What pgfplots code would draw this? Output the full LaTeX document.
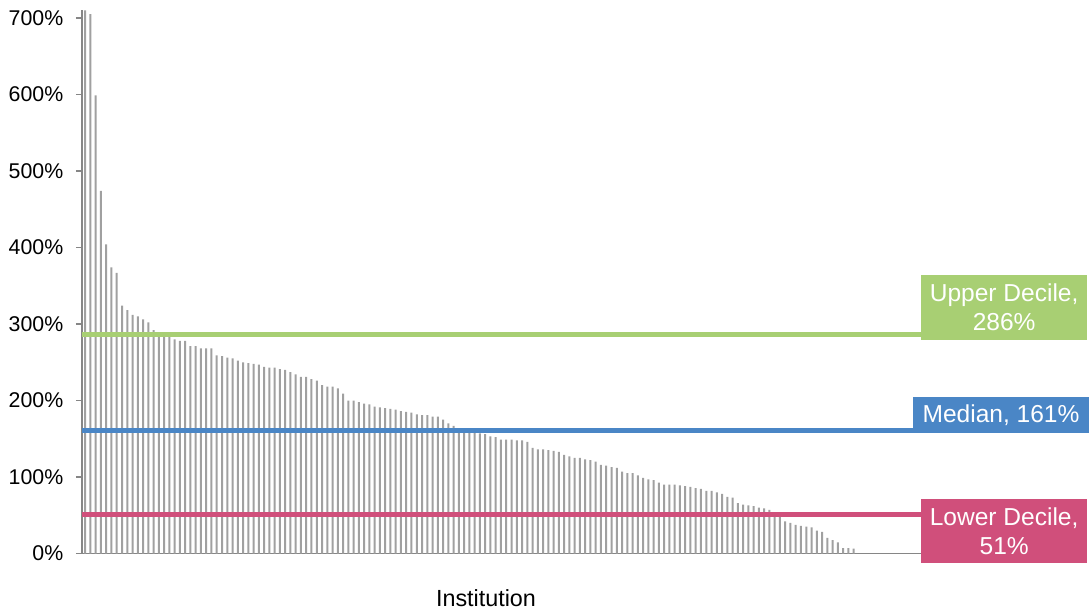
\documentclass[border=0pt]{standalone}
\usepackage{pgfplots}
\pgfplotsset{compat=1.18}
\usepackage{fontspec}
\setmainfont{Liberation Sans}
\definecolor{upc}{HTML}{A8CF73}
\definecolor{medc}{HTML}{4A86C6}
\definecolor{lowc}{HTML}{D04F7B}
\definecolor{barc}{HTML}{A0A0A0}
\definecolor{axc}{HTML}{868686}
\pgfplotstableread{
i v
1 710
2 705
3 599
4 474
5 404
6 374
7 367
8 324
9 318
10 312
11 310
12 306
13 302
14 292
15 286
16 284
17 283
18 280
19 278
20 278
21 271
22 271
23 268
24 268
25 268
26 259
27 258
28 256
29 255
30 252
31 250
32 249
33 248
34 247
35 244
36 243
37 243
38 241
39 240
40 237
41 234
42 231
43 231
44 228
45 226
46 220
47 218
48 218
49 216
50 209
51 200
52 200
53 198
54 196
55 195
56 192
57 191
58 190
59 189
60 188
61 186
62 185
63 184
64 182
65 181
66 181
67 179
68 179
69 175
70 170
71 167
72 164
73 163
74 161
75 159
76 157
77 156
78 153
79 152
80 149
81 149
82 149
83 148
84 148
85 146
86 138
87 136
88 136
89 135
90 134
91 133
92 129
93 127
94 125
95 125
96 123
97 122
98 120
99 116
100 115
101 113
102 112
103 107
104 105
105 105
106 102
107 99
108 97
109 96
110 92.5
111 90
112 90
113 90
114 89
115 88
116 87
117 85.5
118 84.6
119 82
120 82
121 80
122 78
123 74
124 73
125 66
126 64
127 63
128 62
129 60
130 59
131 57
132 52
133 48
134 42
135 40
136 37.5
137 36
138 35
139 34
140 30
141 28.4
142 20.5
143 17.4
144 14.4
145 6.9
146 6.9
147 6.5
}\datatable
\begin{document}
\begin{tikzpicture}
\path[use as bounding box] (-61.5pt,-43.875pt) rectangle (755.25pt,415.125pt);
\begin{axis}[
  at={(0,0)}, anchor=south west,
  scale only axis,
  width=629.25pt, height=407.36pt,
  xmin=0.4, xmax=159.8, ymin=0, ymax=710,
  axis lines*=left,
  axis line style={axc, line width=1.1pt},
  xtick=\empty,
  ytick={0,100,...,700},
  yticklabel={\pgfmathprintnumber{\tick}\%},
  yticklabel style={font=\fontsize{16}{19}\selectfont, text=black, xshift=-6pt},
  /pgf/number format/assume math mode=true,
  tick style={axc, line width=0.9pt},
  major tick length=4.5pt,
  tick align=outside,
  clip=false,
  xlabel={Institution},
  xlabel style={font=\fontsize{17.5}{21}\selectfont, at={(rel axis cs:0.4815,0)}, anchor=center, yshift=-33.4pt},
]
\addplot[ybar, bar width=1.5pt, fill=barc, draw=none] table[x=i, y=v] {\datatable};
\addplot[upc, line width=3.6pt] coordinates {(0.4,286) (185,286)};
\addplot[medc, line width=3.7pt] coordinates {(0.4,161) (185,161)};
\addplot[lowc, line width=3.7pt] coordinates {(0.4,51) (185,51)};
\node[fill=upc, text=white, align=center, minimum width=124.5pt, minimum height=48.75pt, inner sep=0pt, font=\fontsize{18.4}{21.5}\selectfont] at (axis cs:175.6,322.2) {Upper Decile,\\286\%};
\node[fill=medc, text=white, align=center, minimum width=132pt, minimum height=27.5pt, inner sep=0pt, font=\fontsize{18.4}{21.5}\selectfont] at (axis cs:175.0,181) {Median, 161\%};
\node[fill=lowc, text=white, align=center, minimum width=124.5pt, minimum height=48pt, inner sep=0pt, font=\fontsize{18.4}{21.5}\selectfont] at (axis cs:175.6,29) {Lower Decile,\\51\%};
\end{axis}
\end{tikzpicture}
\end{document}
